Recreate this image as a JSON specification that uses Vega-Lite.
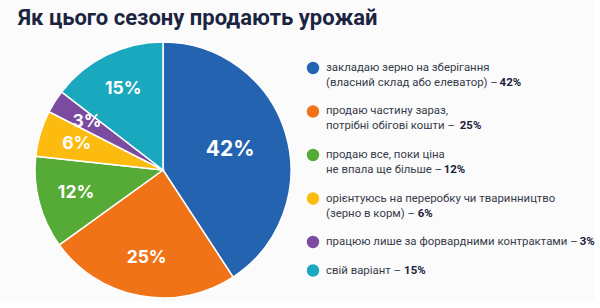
{
  "$schema": "https://vega.github.io/schema/vega-lite/v6.json",
  "background": "#fbfbfc",
  "padding": {"left": 18, "top": 7, "right": 0, "bottom": 0},
  "title": {
    "text": "Як цього сезону продають урожай",
    "anchor": "start",
    "dx": -14,
    "font": "Roboto",
    "fontSize": 22,
    "fontWeight": "bold",
    "color": "#1b2541",
    "offset": 9
  },
  "datasets": {
    "shares": [
      {"cat": "зберігання", "value": 42, "order": 1},
      {"cat": "частину зараз", "value": 25, "order": 2},
      {"cat": "все", "value": 12, "order": 3},
      {"cat": "переробка", "value": 6, "order": 4},
      {"cat": "форварди", "value": 3, "order": 5},
      {"cat": "свій варіант", "value": 15, "order": 6}
    ],
    "legendLines": [
      {"cat": "зберігання", "order": 1, "line": 1, "text": "закладаю зерно на зберігання", "pct": null},
      {"cat": "зберігання", "order": 1, "line": 2, "text": "(власний склад або елеватор) – ", "pct": "42%"},
      {"cat": "частину зараз", "order": 2, "line": 1, "text": "продаю частину зараз,", "pct": null},
      {"cat": "частину зараз", "order": 2, "line": 2, "text": "потрібні обігові кошти – ", "pct": "25%"},
      {"cat": "все", "order": 3, "line": 1, "text": "продаю все, поки ціна", "pct": null},
      {"cat": "все", "order": 3, "line": 2, "text": "не впала ще більше – ", "pct": "12%"},
      {"cat": "переробка", "order": 4, "line": 1, "text": "орієнтуюсь на переробку чи тваринництво", "pct": null},
      {"cat": "переробка", "order": 4, "line": 2, "text": "(зерно в корм) – ", "pct": "6%"},
      {"cat": "форварди", "order": 5, "line": 1, "text": "працюю лише за форвардними контрактами – ", "pct": "3%"},
      {"cat": "свій варіант", "order": 6, "line": 1, "text": "свій варіант – ", "pct": "15%"}
    ]
  },
  "hconcat": [
    {
      "width": 256,
      "height": 256,
      "data": {"name": "shares"},
      "transform": [{"calculate": "datum.value + '%'", "as": "label"}],
      "encoding": {
        "theta": {"field": "value", "type": "quantitative", "stack": true},
        "order": {"field": "order", "type": "quantitative"}
      },
      "layer": [
        {
          "mark": {"type": "arc", "stroke": "#ffffff", "strokeWidth": 1.5},
          "encoding": {
            "color": {
              "field": "cat",
              "type": "nominal",
              "legend": null,
              "scale": {
                "domain": ["зберігання", "частину зараз", "все", "переробка", "форварди", "свій варіант"],
                "range": ["#2463b0", "#f07417", "#56ab37", "#fdbb10", "#7a4b9e", "#19a8be"]
              }
            }
          }
        },
        {
          "mark": {"type": "text", "radius": 90, "font": "Inter", "fontSize": 17.5, "fontWeight": "bold", "fill": "#ffffff", "align": "center", "baseline": "middle"},
          "encoding": {
            "text": {"condition": {"test": "datum.value < 30", "field": "label"}, "value": ""}
          }
        },
        {
          "mark": {"type": "text", "radius": 70, "font": "Inter", "fontSize": 21, "fontWeight": "bold", "fill": "#ffffff", "align": "center", "baseline": "middle"},
          "encoding": {
            "text": {"condition": {"test": "datum.value >= 30", "field": "label"}, "value": ""}
          }
        }
      ]
    },
    {
      "width": 280,
      "height": 256,
      "data": {"name": "legendLines"},
      "transform": [
        {"window": [{"op": "row_number", "as": "rowNo"}]},
        {"calculate": "datum.rowNo - 1 + 0.9 * (datum.order - 1)", "as": "slot"},
        {"calculate": "length(replace(datum.text, regexp('[^ ,.іїl]', 'g'), ''))", "as": "nNarrow"},
        {"calculate": "length(replace(datum.text, regexp('[^()]', 'g'), ''))", "as": "nParen"},
        {"calculate": "length(replace(datum.text, regexp('[^шщмжюф]', 'g'), ''))", "as": "nWide"},
        {"calculate": "11.4 * (0.27 * datum.nNarrow + 0.34 * datum.nParen + 0.78 * datum.nWide + 0.55 * (length(datum.text) - datum.nNarrow - datum.nParen - datum.nWide))", "as": "textEnd"}
      ],
      "encoding": {
        "y": {"field": "slot", "type": "quantitative", "axis": null, "scale": {"domain": [-1.733, 15.333], "zero": false, "nice": false, "reverse": true}}
      },
      "layer": [
        {
          "transform": [{"filter": "datum.line == 1"}],
          "mark": {"type": "point", "filled": true, "size": 154, "opacity": 1, "strokeWidth": 0},
          "encoding": {
            "x": {"datum": 0, "type": "quantitative", "axis": null, "scale": {"domain": [0, 280], "zero": false, "nice": false}},
            "color": {"field": "cat", "type": "nominal", "legend": null}
          }
        },
        {
          "mark": {"type": "text", "font": "Roboto", "fontSize": 11.4, "fill": "#363c48", "align": "left", "baseline": "middle", "dx": 13},
          "encoding": {
            "x": {"datum": 0, "type": "quantitative"},
            "text": {"field": "text"}
          }
        },
        {
          "transform": [{"filter": "datum.pct != null"}],
          "mark": {"type": "text", "font": "Roboto", "fontSize": 11.4, "fontWeight": "bold", "fill": "#19223a", "align": "left", "baseline": "middle", "dx": 13},
          "encoding": {
            "x": {"field": "textEnd", "type": "quantitative"},
            "text": {"field": "pct"}
          }
        }
      ]
    }
  ],
  "spacing": 12,
  "config": {"view": {"stroke": null}}
}
